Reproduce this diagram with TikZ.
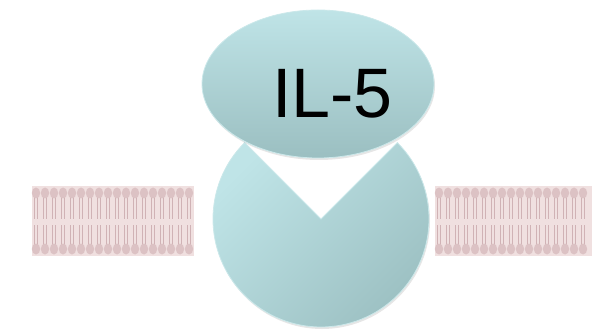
\documentclass[tikz,border=0pt]{standalone}
\usepackage{fontspec}
\setmainfont{Liberation Sans}
\usetikzlibrary{shapes.geometric,shadows}
\definecolor{capLight}{HTML}{BFE4E7}
\definecolor{capDark}{HTML}{9BBFC1}
\definecolor{capEdge}{HTML}{CBE8EA}
\definecolor{lipidBg}{HTML}{F0E0E0}
\definecolor{lipidHead}{HTML}{DCC2C4}
\definecolor{lipidTail}{HTML}{D0B2B5}
\tikzset{
    ligand/.style={ellipse, inner sep=0pt, minimum width=232pt, minimum height=148pt,
        top color=capLight, bottom color=capDark, draw=capEdge, line width=0.8pt,
        drop shadow={opacity=0.2, shadow xshift=1pt, shadow yshift=-2pt}},
    ligandtext/.style={inner sep=0pt, font=\fontsize{70}{70}\selectfont},
    receptor/.style={top color=capLight, bottom color=capDark, shading angle=45,
        draw=capEdge, line width=0.8pt,
        drop shadow={opacity=0.2, shadow xshift=1pt, shadow yshift=-2pt}},
    lipidhead/.style={fill=lipidHead},
    lipidtail/.style={draw=lipidTail, line width=1pt}
}
\newcommand{\bilayer}[2]{%
    \fill[lipidBg] (#1,76) rectangle (#2,146);
    \pgfmathtruncatemacro{\firstx}{#1+4}
    \pgfmathtruncatemacro{\nextx}{#1+13}
    \pgfmathtruncatemacro{\lastx}{#2-3}
    \foreach \x in {\firstx,\nextx,...,\lastx} {
        \draw[lipidtail] (\x-1.8,139) -- (\x-1.8,113) (\x+1.8,139) -- (\x+1.8,113);
        \draw[lipidtail] (\x-1.8,83) -- (\x-1.8,107) (\x+1.8,83) -- (\x+1.8,107);
        \fill[lipidhead] (\x,139) ellipse (4.2 and 5.5);
        \fill[lipidhead] (\x,83) ellipse (4.2 and 5.5);
    }}

\begin{document}
\begin{tikzpicture}[x=1pt,y=1pt]
\useasboundingbox (0,0) rectangle (596,332);

\bilayer{32}{194}
\bilayer{435}{592}

\coordinate (pocket) at (321,113);
\path[receptor] (pocket) -- ++(135:108) arc[start angle=135, end angle=405, radius=108] -- cycle;

\node[ligand] (il5) at (318,248) {};
\node[ligandtext, anchor=base] (il5text) at (332.5,214) {IL-5};
\end{tikzpicture}
\end{document}
